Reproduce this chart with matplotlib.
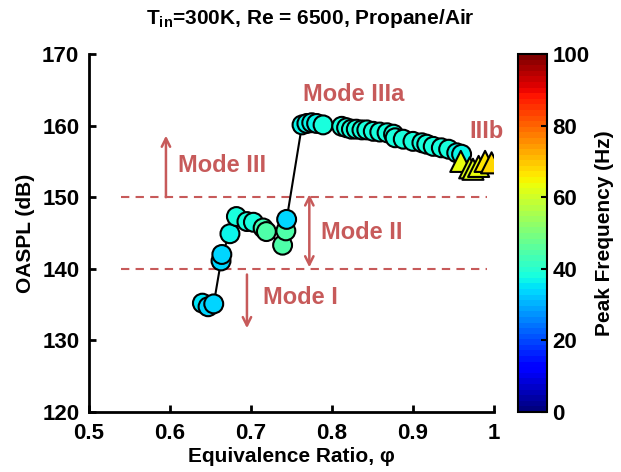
import matplotlib.pyplot as plt
import numpy as np

plt.rcParams['font.family'] = ['Liberation Sans', 'DejaVu Sans']
plt.rcParams['font.weight'] = 'bold'
plt.rcParams['mathtext.fontset'] = 'custom'
plt.rcParams['mathtext.rm'] = 'Liberation Sans:bold'
plt.rcParams['mathtext.it'] = 'Liberation Sans:bold:italic'
plt.rcParams['mathtext.bf'] = 'Liberation Sans:bold'

# circles (modes I, II, IIIa) in measurement order
phi_c = [0.640, 0.647, 0.654, 0.663, 0.664, 0.674, 0.682, 0.695, 0.703, 0.715, 0.719,
         0.739, 0.743, 0.744,
         0.763, 0.769, 0.775, 0.781, 0.789, 0.812, 0.818, 0.824, 0.830, 0.837, 0.843,
         0.851, 0.859, 0.868, 0.876, 0.878, 0.888, 0.900, 0.911, 0.917, 0.925, 0.935,
         0.944, 0.954, 0.960]
spl_c = [135.2, 134.7, 135.1, 141.1, 142.0, 144.9, 147.3, 146.6, 146.5, 145.7, 145.2,
         143.3, 145.3, 146.9,
         160.1, 160.3, 160.4, 160.3, 160.1, 159.9, 159.7, 159.5, 159.5, 159.4, 159.4,
         159.2, 159.1, 159.0, 158.8, 158.3, 158.1, 157.8, 157.6, 157.4, 157.1, 156.9,
         156.7, 156.2, 156.0]
freq_c = [35, 34, 33, 33, 33, 37, 38, 38, 38, 43, 44,
          45, 44, 34,
          36, 36, 37, 37, 38, 38, 38, 38, 38, 38, 38,
          38, 38, 38, 38, 38, 38, 38, 38, 38, 38, 38,
          38, 37, 36]

# triangles (mode IIIb)
phi_t = [0.959, 0.970, 0.974, 0.981, 0.989, 0.997]
spl_t = [155.0, 154.1, 153.9, 154.3, 155.0, 154.8]
freq_t = [63, 62, 62, 64, 66, 68]

red = '#C75A5A'
fs = 15
tfs = 16

fig = plt.figure(figsize=(6.21, 4.72), dpi=100)
ax = fig.add_axes([89/621, 1 - 412/472, 405/621, 358/472])
cmap = plt.get_cmap('jet', 64)

ax.plot(phi_c, spl_c, color='black', lw=1.5, zorder=2)
sc = ax.scatter(phi_c, spl_c, c=freq_c, cmap=cmap, vmin=0, vmax=100, s=185,
                edgecolors='black', linewidths=1.5, zorder=3)
ax.scatter(phi_t, spl_t, c=freq_t, cmap=cmap, vmin=0, vmax=100, s=230, marker='^',
           edgecolors='black', linewidths=1.5, zorder=4)

# mode boundaries
for yv in [150, 140]:
    ax.plot([0.540, 0.991], [yv, yv], color=red, lw=1.5, ls=(0, (4, 3)), zorder=1)

arr = dict(arrowstyle='->,head_length=0.6,head_width=0.3', color=red, lw=1.8,
           shrinkA=0, shrinkB=0)
ax.annotate('', xy=(0.595, 158.6), xytext=(0.595, 150), arrowprops=arr)
ax.annotate('', xy=(0.695, 131.7), xytext=(0.695, 139.2), arrowprops=arr)
arr2 = dict(arr, arrowstyle='<->,head_length=0.6,head_width=0.3')
ax.annotate('', xy=(0.772, 150.4), xytext=(0.772, 140.2), arrowprops=arr2)

tk = dict(color=red, fontsize=17, fontweight='bold', va='center', ha='left')
ax.text(0.610, 154.4, 'Mode III', **tk)
ax.text(0.786, 145.0, 'Mode II', **tk)
ax.text(0.715, 136.0, 'Mode I', **tk)
ax.text(0.764, 164.3, 'Mode IIIa', **tk)
ax.text(0.970, 159.2, 'IIIb', **tk)

ax.set_xlim(0.5, 1.0)
ax.set_ylim(120, 170)
ax.set_xticks(np.arange(0.5, 1.01, 0.1))
ax.set_xticklabels(['0.5', '0.6', '0.7', '0.8', '0.9', '1'])
ax.set_yticks(np.arange(120, 171, 10))
ax.spines['top'].set_visible(False)
ax.spines['right'].set_visible(False)
for s in ['left', 'bottom']:
    ax.spines[s].set_linewidth(2)
ax.tick_params(direction='in', length=5, width=2, labelsize=tfs)
ax.tick_params(axis='y', pad=7)
ax.tick_params(axis='x', pad=8)
for lab in ax.get_xticklabels() + ax.get_yticklabels():
    lab.set_fontweight('bold')
ax.set_xlabel('Equivalence Ratio, φ', fontsize=fs, fontweight='bold', labelpad=2)
ax.set_ylabel('OASPL (dB)', fontsize=fs, fontweight='bold', labelpad=5)

cax = fig.add_axes([518/621, 1 - 412/472, 29/621, 358/472])
cb = fig.colorbar(sc, cax=cax)
cb.set_ticks([0, 20, 40, 60, 80, 100])
cb.outline.set_linewidth(1.5)
cax.tick_params(direction='in', length=4, width=1.5, labelsize=tfs, pad=4)
for lab in cax.get_yticklabels():
    lab.set_fontweight('bold')
cb.set_label('Peak Frequency (Hz)', fontsize=fs, fontweight='bold', labelpad=4)

fig.text(310/621, 1 - 18/472, r'T$_{\mathrm{in}}$=300K, Re = 6500, Propane/Air',
         fontsize=fs, fontweight='bold', ha='center', va='center')

fig.savefig('out.png', dpi=100)
